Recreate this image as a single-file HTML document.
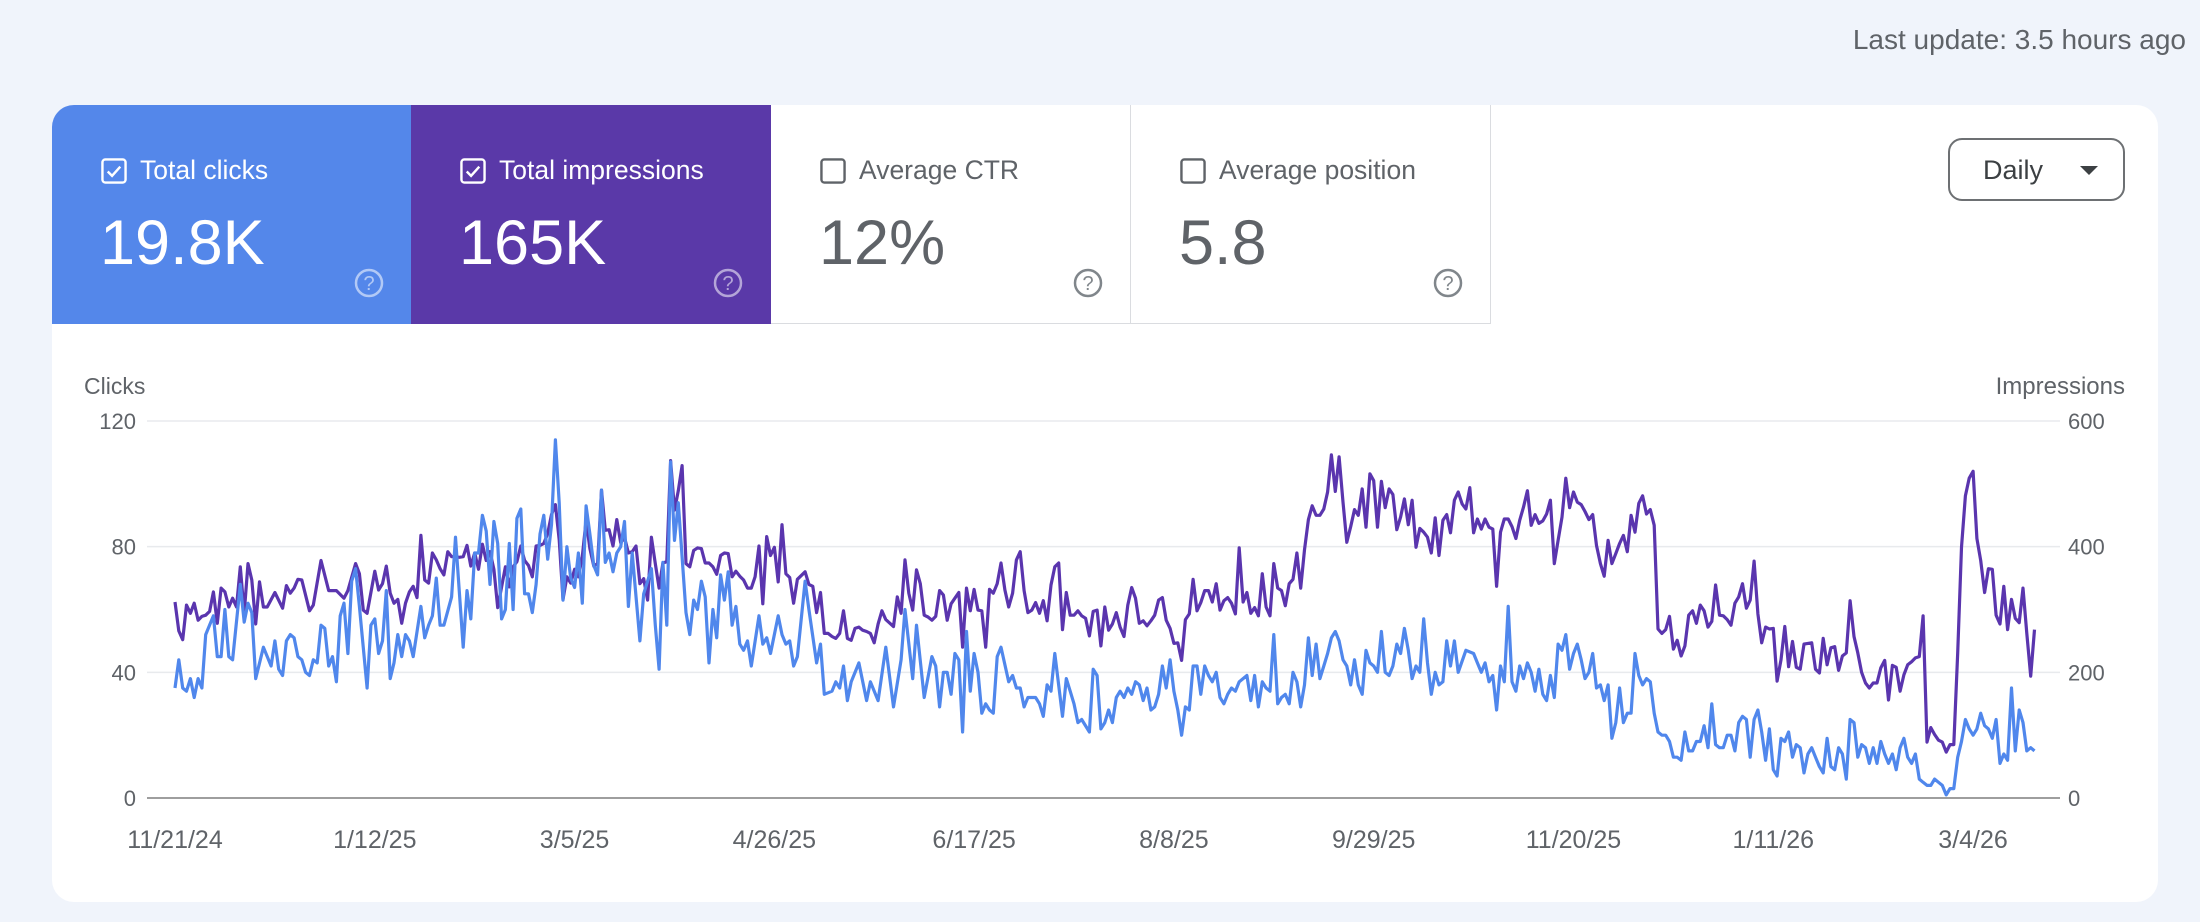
<!DOCTYPE html>
<html><head><meta charset="utf-8">
<style>
*{box-sizing:border-box;margin:0;padding:0}
body{width:2200px;height:922px;background:#f0f4fb;font-family:"Liberation Sans",sans-serif;position:relative;overflow:hidden}
.upd{position:absolute;right:14px;top:24px;font-size:28px;color:#5f6368}
.card{position:absolute;left:52px;top:105px;width:2106px;height:797px;background:#fff;border-radius:22px;overflow:hidden}
.tile{position:absolute;top:0;height:219px;width:360px}
.tile .cb{position:absolute;left:49px;top:53px;width:26px;height:26px}
.tile .lbl{position:absolute;left:88px;top:50px;font-size:26.5px;line-height:30px}
.tile .num{position:absolute;left:48px;top:103px;font-size:63px;line-height:70px}
.tile .help{position:absolute;left:302px;top:163px;width:30px;height:30px}
.t1{left:0;background:#5487ea;color:#fff}
.t2{left:359px;background:#5a39a8;color:#fff}
.t3{left:719px;background:#fff;color:#5f6368;border-right:1.5px solid #dadce0;border-bottom:1.5px solid #dadce0}
.t4{left:1079px;background:#fff;color:#5f6368;border-right:1.5px solid #dadce0;border-bottom:1.5px solid #dadce0}
.daily{position:absolute;left:1896px;top:33px;width:177px;height:63px;border:2px solid #6d7073;border-radius:14px;font-size:27px;color:#3c4043}
.daily span{position:absolute;left:33px;top:15px}
.daily i{position:absolute;left:130px;top:26px;width:0;height:0;border-left:9px solid transparent;border-right:9px solid transparent;border-top:9px solid #3c4043}
#chart{position:absolute;left:0;top:0}
</style></head>
<body>
<div class="upd">Last update: 3.5 hours ago</div>
<div class="card">
  <div class="tile t1">
    <svg class="cb" viewBox="0 0 27 27"><rect x="1.5" y="1.5" width="24" height="24" rx="3" fill="none" stroke="#fff" stroke-width="2.5"/><path d="M7 14l4.5 4.5L20 9" fill="none" stroke="#fff" stroke-width="2.5"/></svg>
    <div class="lbl">Total clicks</div>
    <div class="num">19.8K</div>
    <svg class="help" viewBox="0 0 30 30"><circle cx="15" cy="15" r="13" fill="none" stroke="rgba(255,255,255,0.55)" stroke-width="2.5"/><text x="15" y="22" text-anchor="middle" font-size="20" fill="rgba(255,255,255,0.55)" font-family="Liberation Sans">?</text></svg>
  </div>
  <div class="tile t2">
    <svg class="cb" viewBox="0 0 27 27"><rect x="1.5" y="1.5" width="24" height="24" rx="3" fill="none" stroke="#fff" stroke-width="2.5"/><path d="M7 14l4.5 4.5L20 9" fill="none" stroke="#fff" stroke-width="2.5"/></svg>
    <div class="lbl">Total impressions</div>
    <div class="num">165K</div>
    <svg class="help" viewBox="0 0 30 30"><circle cx="15" cy="15" r="13" fill="none" stroke="rgba(255,255,255,0.55)" stroke-width="2.5"/><text x="15" y="22" text-anchor="middle" font-size="20" fill="rgba(255,255,255,0.55)" font-family="Liberation Sans">?</text></svg>
  </div>
  <div class="tile t3">
    <svg class="cb" viewBox="0 0 27 27"><rect x="1.5" y="1.5" width="24" height="24" rx="3" fill="none" stroke="#5f6368" stroke-width="2.5"/></svg>
    <div class="lbl">Average CTR</div>
    <div class="num">12%</div>
    <svg class="help" viewBox="0 0 30 30"><circle cx="15" cy="15" r="13" fill="none" stroke="#80868b" stroke-width="2.5"/><text x="15" y="22" text-anchor="middle" font-size="20" fill="#80868b" font-family="Liberation Sans">?</text></svg>
  </div>
  <div class="tile t4">
    <svg class="cb" viewBox="0 0 27 27"><rect x="1.5" y="1.5" width="24" height="24" rx="3" fill="none" stroke="#5f6368" stroke-width="2.5"/></svg>
    <div class="lbl">Average position</div>
    <div class="num">5.8</div>
    <svg class="help" viewBox="0 0 30 30"><circle cx="15" cy="15" r="13" fill="none" stroke="#80868b" stroke-width="2.5"/><text x="15" y="22" text-anchor="middle" font-size="20" fill="#80868b" font-family="Liberation Sans">?</text></svg>
  </div>
  <div class="daily"><span>Daily</span><i></i></div>
</div>
<svg id="chart" width="2200" height="922"></svg>
<script>
const xTickLabels=["11/21/24","1/12/25","3/5/25","4/26/25","6/17/25","8/8/25","9/29/25","11/20/25","1/11/26","3/4/26"];
const xTickDays=[0,52,104,156,208,260,312,364,416,468];
const leftTicks=[0,40,80,120];
const rightTicks=[0,200,400,600];
const clickDays=[0,1,2,3,4,5,6,7,8,10,11,12,13,14,15,17,18,19,20,21,23,25,26,27,28,29,30,31,32,33,34,35,36,37,38,39,40,41,42,43,44,45,46,47,48,50,51,52,53,54,55,56,57,58,59,60,61,62,64,65,66,67,68,69,70,72,73,75,76,77,78,79,80,81,82,83,84,85,86,87,88,89,90,91,92,93,94,95,96,97,98,99,100,101,102,103,104,105,106,107,108,109,110,111,112,113,114,115,116,117,118,119,121,122,124,125,126,127,128,129,130,131,133,134,135,136,137,138,139,140,141,142,143,144,145,146,147,148,149,150,152,153,154,155,157,158,159,160,161,162,164,165,167,168,169,171,172,173,174,175,176,178,180,181,183,185,187,189,190,192,193,195,197,198,199,200,201,202,203,204,205,206,207,208,209,210,211,212,213,214,215,217,218,219,220,221,222,223,224,225,226,227,228,229,231,232,233,234,235,236,238,239,240,241,242,243,244,245,246,247,248,249,250,251,252,253,254,255,256,257,258,259,260,261,262,263,264,265,266,267,268,269,270,271,272,273,274,275,276,277,278,279,280,281,282,283,284,285,286,287,288,289,290,291,292,293,294,295,296,297,298,299,300,301,302,303,304,305,306,307,308,309,310,311,312,313,314,315,316,317,318,319,320,321,322,323,324,325,326,327,328,329,330,331,332,333,334,336,338,339,340,341,342,343,344,345,346,347,348,349,350,351,352,353,354,355,356,357,358,359,360,361,362,363,364,365,366,367,368,369,370,371,372,373,374,375,376,377,378,379,380,381,382,383,384,385,386,387,388,389,390,391,392,393,394,395,396,397,398,399,400,401,402,403,404,405,406,407,408,409,410,411,412,413,414,415,416,417,418,419,420,421,422,423,424,425,426,427,428,429,430,431,432,433,434,435,436,437,438,439,440,441,442,443,444,445,446,447,448,449,450,451,452,453,454,455,456,457,458,459,460,461,462,463,464,465,466,467,468,469,470,471,472,473,474,475,476,477,478,479,480,481,482,483,484];
const clickValues=[35,44,35,34,38,32,38,35,52,58,45,45,60,45,44,68,56,62,59,38,48,42,50,41,39,50,52,51,45,44,40,39,44,43,55,54,42,45,37,58,62,46,69,73,61,35,55,57,46,50,66,38,43,52,45,52,50,45,61,51,55,58,70,55,55,64,83,48,66,57,78,78,90,85,68,88,81,57,60,81,60,89,92,65,65,59,68,84,90,76,87,114,94,63,80,70,67,78,62,93,84,74,71,98,75,78,72,78,80,88,61,78,50,65,73,55,41,75,55,107,82,94,59,52,63,60,69,64,43,60,51,71,63,72,55,61,49,47,50,42,58,49,51,46,58,52,49,50,42,45,69,60,43,49,33,34,37,35,42,31,37,43,31,37,31,48,29,44,60,38,55,32,45,42,29,40,40,33,46,44,21,53,34,46,40,27,30,28,27,45,48,37,39,35,35,29,32,32,32,30,26,36,34,46,26,38,34,30,24,25,21,41,39,22,24,28,24,32,34,32,35,33,37,36,31,35,28,29,33,42,35,44,34,28,20,29,28,42,42,33,42,39,37,40,32,30,33,35,34,37,38,39,31,39,29,37,35,34,52,30,32,33,30,40,37,29,36,51,39,49,38,42,46,51,53,50,44,42,36,44,36,33,47,43,42,40,53,40,39,42,49,46,54,47,38,42,40,57,43,33,40,36,37,50,42,50,40,47,46,43,40,43,37,39,28,42,37,61,37,34,42,38,43,40,34,41,33,31,39,32,49,47,52,41,46,49,44,38,40,46,35,36,31,36,19,24,35,24,27,27,46,39,36,38,37,27,21,20,20,18,13,13,12,21,15,15,18,18,23,16,30,17,16,16,20,20,15,24,26,25,13,25,28,21,12,22,9,7,19,18,21,13,17,16,8,14,16,13,10,8,19,10,9,16,14,6,25,24,13,17,16,11,16,11,18,14,11,14,9,16,19,13,11,14,6,5,4,4,6,5,4,1,3,3,13,18,25,22,20,22,27,23,22,19,25,11,14,12,35,15,28,24,15,16,15];
const impDays=[0,1,2,3,4,5,6,7,8,9,10,11,12,13,14,15,16,17,18,19,20,21,22,23,24,26,28,29,30,31,32,33,35,36,38,40,42,44,45,47,48,49,50,52,53,54,55,56,57,58,59,60,61,62,63,64,65,66,67,68,69,70,71,72,73,74,75,76,77,78,79,80,81,82,83,84,85,86,87,88,89,90,91,92,93,94,95,96,97,98,99,100,101,102,103,104,105,106,107,108,109,110,111,112,113,114,115,116,117,118,119,120,121,122,123,124,125,126,127,128,129,130,131,132,133,134,135,136,137,138,139,140,141,142,143,144,145,146,147,148,149,150,151,152,153,154,155,156,157,158,159,160,161,162,164,165,166,167,168,169,170,171,172,173,174,175,176,177,178,179,180,181,182,183,184,185,187,188,189,190,191,192,193,194,195,196,197,198,199,200,201,202,203,204,205,206,207,208,209,210,211,212,213,214,215,216,217,218,219,220,221,222,223,224,225,226,227,228,229,230,231,232,233,234,235,236,237,238,239,240,241,242,243,244,245,246,247,248,249,250,251,252,253,254,255,256,257,258,259,260,261,262,263,264,265,266,267,268,269,270,271,272,273,274,275,276,277,278,279,280,281,282,283,284,285,286,287,288,289,290,291,292,293,294,295,296,297,298,299,300,301,302,303,304,305,306,307,308,309,310,311,312,313,314,315,316,317,318,319,320,321,322,323,324,325,326,327,328,329,330,331,332,333,334,335,336,337,338,339,340,341,342,343,344,345,346,347,348,349,350,351,352,353,354,355,356,357,358,359,360,361,362,363,364,365,366,367,368,369,370,371,372,373,374,375,376,377,378,379,380,381,382,383,384,385,386,387,388,389,390,391,392,393,394,395,396,397,398,399,400,401,402,403,404,405,406,407,408,409,410,411,412,413,414,415,416,417,418,419,420,421,422,423,424,425,426,427,428,429,430,431,432,433,434,435,436,437,438,439,440,441,442,443,444,445,446,447,448,449,450,451,452,453,454,455,456,457,458,459,460,461,462,463,464,465,466,467,468,469,470,471,472,473,474,475,476,477,478,479,480,481,482,483,484];
const impValues=[312,266,252,307,294,310,283,289,291,297,328,278,334,328,304,318,304,368,294,373,347,277,344,304,304,327,302,338,326,334,348,347,298,307,378,330,330,318,330,373,357,299,294,361,331,341,369,326,310,316,278,310,328,337,319,418,347,342,390,379,365,355,392,384,384,383,384,402,369,390,364,404,378,392,364,303,336,368,336,368,376,401,378,370,352,401,402,405,421,451,467,411,316,352,342,364,352,384,442,397,369,373,490,426,427,401,443,406,415,390,392,401,341,349,315,415,373,334,374,376,537,458,489,529,373,368,394,398,397,374,374,368,356,386,390,389,352,361,353,347,334,334,352,401,309,416,386,399,344,435,357,351,310,348,360,340,337,295,327,262,262,257,254,262,298,254,251,270,272,267,265,262,247,277,298,284,273,320,294,379,326,299,363,341,291,288,283,289,330,323,283,309,318,327,240,334,298,332,299,298,240,332,326,341,374,331,304,326,379,392,330,295,299,311,294,314,282,339,368,374,268,327,291,291,298,290,286,258,297,299,242,304,267,277,295,272,257,307,335,318,278,282,274,282,291,315,319,283,270,246,247,219,284,293,348,298,311,330,330,312,341,299,314,319,310,293,398,312,327,294,303,290,357,304,290,373,334,330,306,341,348,390,334,395,443,465,450,450,460,487,546,488,543,471,407,432,459,450,492,431,516,505,431,504,462,492,483,427,447,476,435,474,399,429,423,415,390,446,386,442,451,422,474,487,468,460,494,422,444,428,444,431,428,337,423,444,444,432,413,442,463,489,434,451,437,441,452,474,373,410,447,509,462,487,471,467,456,443,451,402,373,353,410,373,389,405,418,392,450,423,469,481,452,459,434,269,262,268,289,237,251,226,242,291,298,278,307,298,272,281,339,291,290,284,275,310,320,341,302,315,377,293,247,272,269,270,186,220,273,209,249,208,205,245,246,247,205,199,254,212,239,241,203,226,231,314,257,231,200,183,175,183,183,207,219,156,211,208,170,196,212,217,223,225,290,89,112,101,92,89,73,85,85,231,399,481,509,520,413,378,327,365,364,291,277,337,268,316,286,279,334,262,194,268];

const NS='http://www.w3.org/2000/svg';
const svg=document.getElementById('chart');
const X0=175, PX_PER_DAY=3.842, PLOT_L=147, PLOT_R=2060, Y_TOP=421, Y_BOT=798;
const xScale=d=>X0+d*PX_PER_DAY;
const yLeft=v=>Y_BOT-(v/120)*(Y_BOT-Y_TOP);
const yRight=v=>Y_BOT-(v/600)*(Y_BOT-Y_TOP);
function mk(tag,attrs){const e=document.createElementNS(NS,tag);for(const k in attrs)e.setAttribute(k,attrs[k]);svg.appendChild(e);return e;}
function txt(s,attrs){const e=mk('text',attrs);e.textContent=s;return e;}

leftTicks.forEach((t,i)=>{
  const y=yLeft(t);
  if(t>0){const g=mk('line',{x1:PLOT_L,x2:PLOT_R,y1:y,y2:y,stroke:'#e8eaed','stroke-width':1.5});
    
    }
  const l=txt(String(t),{x:136,y:y+8,'text-anchor':'end','font-size':22,fill:'#5f6368','font-family':'Liberation Sans'});
  
  
});
rightTicks.forEach(t=>{
  const l=txt(String(t),{x:2068,y:yRight(t)+8,'font-size':22,fill:'#5f6368','font-family':'Liberation Sans'});
  
  
});
const base=mk('line',{x1:PLOT_L,x2:PLOT_R,y1:Y_BOT,y2:Y_BOT,stroke:'#9e9e9e','stroke-width':2});


xTickLabels.forEach((s,i)=>{
  const l=txt(s,{x:xScale(xTickDays[i]),y:848,'text-anchor':'middle','font-size':25,fill:'#5f6368','font-family':'Liberation Sans'});
  
  
});
const lt=txt('Clicks',{x:84,y:394,'font-size':23,fill:'#5f6368','font-family':'Liberation Sans'});


const rt=txt('Impressions',{x:2125,y:394,'text-anchor':'end','font-size':24,fill:'#5f6368','font-family':'Liberation Sans'});



function pathFrom(days,vals,ys){return days.map((d,i)=>(i?'L':'M')+xScale(d).toFixed(1)+' '+ys(vals[i]).toFixed(1)).join(' ');}
const pImp=mk('path',{d:pathFrom(impDays,impValues,yRight),fill:'none',stroke:'#5a35ae','stroke-width':3.2,'stroke-linejoin':'round'});


const pClk=mk('path',{d:pathFrom(clickDays,clickValues,yLeft),fill:'none',stroke:'#5087ec','stroke-width':3.2,'stroke-linejoin':'round'});


</script>
</body></html>
